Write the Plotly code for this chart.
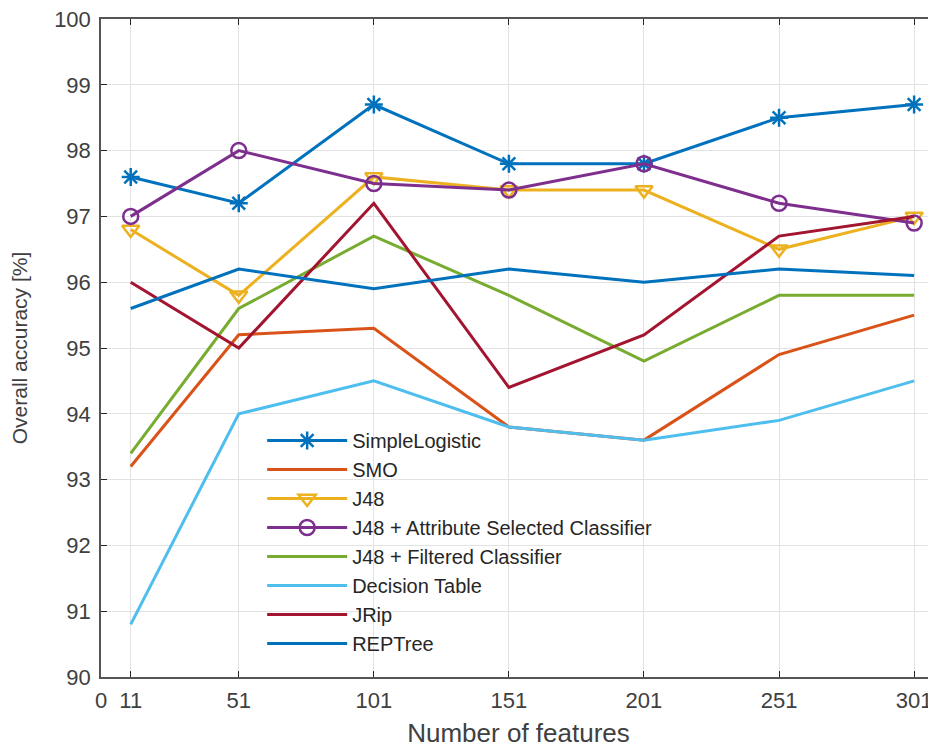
import plotly.graph_objects as go

features = [11, 51, 101, 151, 201, 251, 301]
simple_logistic = [97.6, 97.2, 98.7, 97.8, 97.8, 98.5, 98.7]
smo = [93.2, 95.2, 95.3, 93.8, 93.6, 94.9, 95.5]
j48 = [96.8, 95.8, 97.6, 97.4, 97.4, 96.5, 97.0]
j48_asc = [97.0, 98.0, 97.5, 97.4, 97.8, 97.2, 96.9]
j48_filtered = [93.4, 95.6, 96.7, 95.8, 94.8, 95.8, 95.8]
decision_table = [90.8, 94.0, 94.5, 93.8, 93.6, 93.9, 94.5]
jrip = [96.0, 95.0, 97.2, 94.4, 95.2, 96.7, 97.0]
reptree = [95.6, 96.2, 95.9, 96.2, 96.0, 96.2, 96.1]

x_ticks = [0, 11, 51, 101, 151, 201, 251, 301]
y_ticks = list(range(90, 101))

series = [
    ("SimpleLogistic", simple_logistic, "#0072BD", "asterisk-open"),
    ("SMO", smo, "#D95319", None),
    ("J48", j48, "#EDB120", "triangle-down-open"),
    ("J48 + Attribute Selected Classifier", j48_asc, "#7E2F8E", "circle-open"),
    ("J48 + Filtered Classifier", j48_filtered, "#77AC30", None),
    ("Decision Table", decision_table, "#4DBEEE", None),
    ("JRip", jrip, "#A2142F", None),
    ("REPTree", reptree, "#0072BD", None),
]

fig = go.Figure()
for name, vals, color, sym in series:
    if sym:
        fig.add_trace(go.Scatter(
            x=features, y=vals, name=name, mode="lines+markers",
            line=dict(color=color, width=3),
            marker=dict(symbol=sym, size=15, color=color, line=dict(color=color, width=2.5)),
        ))
    else:
        fig.add_trace(go.Scatter(
            x=features, y=vals, name=name, mode="lines",
            line=dict(color=color, width=3),
        ))

axis_common = dict(
    showline=True, linecolor="#555555", linewidth=1.5, mirror="ticks",
    ticks="inside", ticklen=6, tickcolor="#262626",
    showgrid=True, gridcolor="#e2e2e2", gridwidth=1, zeroline=False,
    ticklabeloverflow="allow", automargin=False,
    tickfont=dict(family="Liberation Sans, Arial", size=22, color="#404040"),
)

fig.update_layout(
    width=936, height=750,
    margin=dict(l=93, r=8, t=11, b=81),
    paper_bgcolor="white", plot_bgcolor="white",
    font=dict(family="Liberation Sans, Arial", color="#262626"),
    xaxis=dict(range=[0, 309.1], tickvals=x_ticks, ticktext=[str(t) for t in x_ticks],
               ticklabelstandoff=3,
               title=dict(text="Number of features", font=dict(size=26, color="#404040"), standoff=12),
               **axis_common),
    yaxis=dict(range=[90, 100], tickvals=y_ticks, ticklabelstandoff=4,
               title=dict(text="Overall accuracy [%]", font=dict(size=21, color="#404040"), standoff=22),
               **axis_common),
    legend=dict(x=0.193, y=0.389, xanchor="left", yanchor="top",
                bgcolor="rgba(0,0,0,0)", borderwidth=0,
                font=dict(size=20, color="#262626"), itemwidth=80,
                tracegroupgap=0),
    showlegend=True,
)

fig.write_html("out.html")
